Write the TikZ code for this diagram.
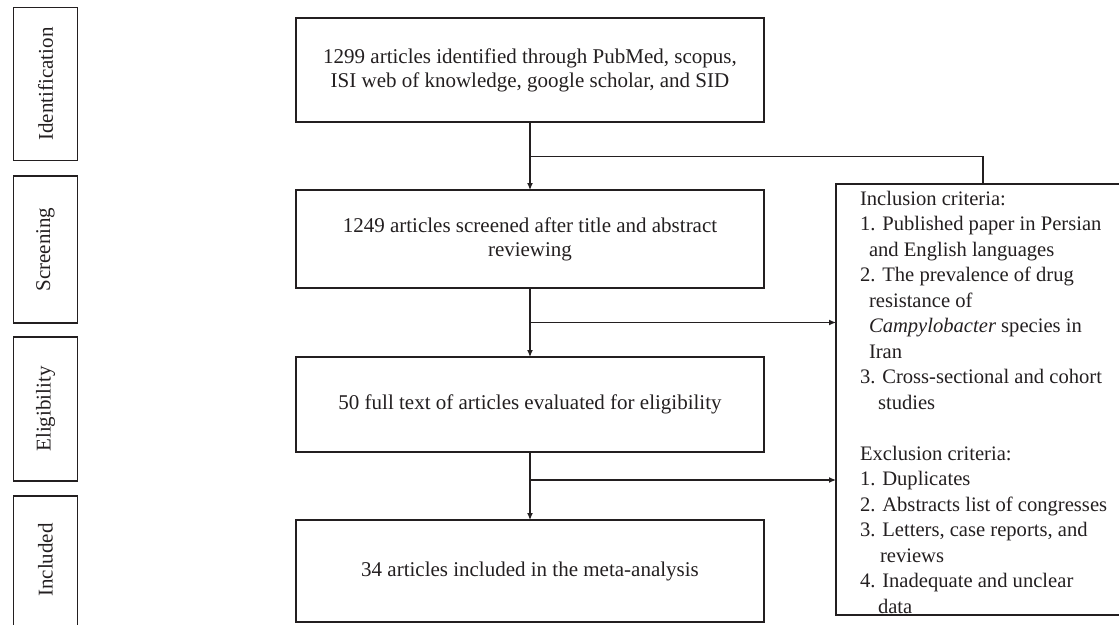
\documentclass[tikz,border=0pt]{standalone}
\usepackage{fontspec}
\setmainfont{Liberation Serif}
\usetikzlibrary{arrows.meta}
\definecolor{ink}{HTML}{231F20}
\begin{document}
\begin{tikzpicture}[x=1pt,y=-1pt,
  every node/.style={inner sep=0pt,outer sep=0pt},
  txt/.style={font=\fontsize{21}{24}\selectfont,text=ink},
  crl/.style={font=\fontsize{20.6}{25.5}\selectfont,text=ink,anchor=base west},
  stagebox/.style={draw=ink,line width=1.2pt,minimum width=64pt,txt},
  mainbox/.style={draw=ink,line width=1.2pt,minimum width=468pt,align=center,txt},
  link/.style={draw=ink,line width=1.2pt},
  arr/.style={link,-{Latex[length=7pt,width=6pt]}}]
\useasboundingbox (0,0) rectangle (1119,624);
% stage labels
\node[stagebox,minimum height=152.5pt] (sid) at (45.5,84) {};
\node[txt,rotate=90] (lid) at (sid.center) {Identification};
\node[stagebox,minimum height=147pt] (sscr) at (45.5,249.5) {};
\node[txt,rotate=90] (lscr) at (sscr.center) {Screening};
\node[stagebox,minimum height=144pt] (seli) at (45.5,409) {};
\node[txt,rotate=90] (leli) at (seli.center) {Eligibility};
\node[stagebox,minimum height=130pt] (sinc) at (45.5,561) {};
\node[txt,rotate=90] (linc) at (45.5,560) {Included};
% main flow
\node[mainbox,minimum height=104pt] (n1) at (530,70) {1299 articles identified through PubMed, scopus,\\ISI web of knowledge, google scholar, and SID};
\node[mainbox,minimum height=98pt] (n2) at (530,239) {1249 articles screened after title and abstract\\reviewing};
\node[mainbox,minimum height=95pt] (n3) at (530,404.5) {50 full text of articles evaluated for eligibility};
\node[mainbox,minimum height=102pt] (n4) at (530,571) {34 articles included in the meta-analysis};
% criteria box
\node[draw=ink,line width=1.2pt,minimum width=290pt,minimum height=431pt] (crit) at (981,399.5) {};
\node[crl] (c1) at (860,205) {Inclusion criteria:};
\node[crl] (c2) at (860,230.5) {1. Published paper in Persian};
\node[crl] (c3) at (869,256) {and English languages};
\node[crl] (c4) at (860,281.5) {2. The prevalence of drug};
\node[crl] (c5) at (869,307) {resistance of};
\node[crl] (c6) at (869,332.5) {\textit{Campylobacter} species in};
\node[crl] (c7) at (869,358) {Iran};
\node[crl] (c8) at (860,383.5) {3. Cross-sectional and cohort};
\node[crl] (c9) at (878,409) {studies};
\node[crl] (c10) at (860,460) {Exclusion criteria:};
\node[crl] (c11) at (860,485.5) {1. Duplicates};
\node[crl] (c12) at (860,511) {2. Abstracts list of congresses};
\node[crl] (c13) at (860,536.5) {3. Letters, case reports, and};
\node[crl] (c14) at (880,562) {reviews};
\node[crl] (c15) at (860,587.5) {4. Inadequate and unclear};
\node[crl] (c16) at (878,613) {data};
% connectors
\coordinate (b1) at (530,156.5);
\coordinate (j1) at (983,156.5);
\coordinate (b2) at (530,322.5);
\coordinate (b3) at (530,480);
\draw[arr] (n1.south) -- (n2.north);
\draw[arr] (n2.south) -- (n3.north);
\draw[arr] (n3.south) -- (n4.north);
\draw[link] (b1) -- (j1) -- (j1 |- crit.north);
\draw[arr] (b2) -- (b2 -| crit.west);
\draw[arr] (b3) -- (b3 -| crit.west);
\end{tikzpicture}
\end{document}
